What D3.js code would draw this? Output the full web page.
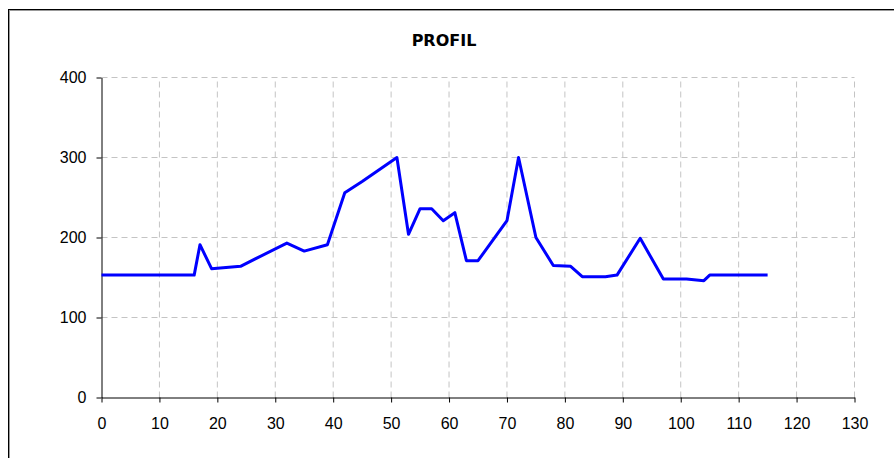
<!DOCTYPE html>
<html>
<head>
<meta charset="utf-8">
<script src="https://cdn.jsdelivr.net/npm/d3@7"></script>
<style>
  html, body { margin: 0; padding: 0; background: #fff; }
  svg { display: block; }
</style>
</head>
<body>
<svg id="chart" width="894" height="458"></svg>
<script>
const title = "PROFIL";
const distance = [0, 16, 17, 19, 24, 32, 35, 39, 42, 45, 51, 53, 55, 57, 59, 61, 63, 65, 70, 72, 75, 78, 81, 83, 87, 89, 93, 97, 101, 104, 105, 115];
const height = [153, 153, 191, 161, 164, 193, 183, 191, 256, 270, 300, 204, 236, 236, 221, 231, 171, 171, 221, 300, 200, 165, 164, 151, 151, 153, 199, 148, 148, 146, 153, 153];
const xTicks = [0, 10, 20, 30, 40, 50, 60, 70, 80, 90, 100, 110, 120, 130];
const yTicks = [0, 100, 200, 300, 400];

const svg = d3.select("#chart");

// outer frame
svg.append("rect").attr("x", 9.5).attr("y", 10.5).attr("width", 1000).attr("height", 1000)
  .attr("fill", "none").attr("stroke", "#999").attr("stroke-width", 1);
svg.append("rect").attr("x", 8.5).attr("y", 9.5).attr("width", 1000).attr("height", 1000)
  .attr("fill", "none").attr("stroke", "#000").attr("stroke-width", 1);

const x = d3.scaleLinear().domain([0, 130]).range([101.5, 854.5]);
const y = d3.scaleLinear().domain([0, 400]).range([397.5, 77.5]);

// gridlines
svg.append("g").selectAll("line.h").data(yTicks.filter(d => d > 0)).join("line")
  .attr("x1", x(0)).attr("x2", x(130))
  .attr("y1", d => y(d)).attr("y2", d => y(d))
  .attr("stroke", "#c4c4c4").attr("stroke-dasharray", "6,4").attr("stroke-width", 1);
svg.append("g").selectAll("line.v").data(xTicks.filter(d => d > 0)).join("line")
  .attr("x1", d => x(d)).attr("x2", d => x(d))
  .attr("y1", y(0)).attr("y2", y(400))
  .attr("stroke", "#c4c4c4").attr("stroke-dasharray", "6,4").attr("stroke-width", 1);

// axes
const xAxis = d3.axisBottom(x).tickValues(xTicks).tickSize(5).tickSizeOuter(0).tickPadding(15);
const yAxis = d3.axisLeft(y).tickValues(yTicks).tickSize(5).tickSizeOuter(0).tickPadding(10);

const gx = svg.append("g").attr("transform", `translate(0,${y(0)})`).call(xAxis);
const gy = svg.append("g").attr("transform", `translate(${x(0)},0)`).call(yAxis);
[gx, gy].forEach(g => {
  g.selectAll("text").attr("font-family", "'Liberation Sans', Arial, sans-serif")
    .attr("font-size", 16).attr("fill", "#000");
  g.selectAll("line").attr("stroke", "#000");
  g.select(".domain").attr("stroke", "#000");
});

// line
const line = d3.line().x((d, i) => x(distance[i])).y(d => y(d));
svg.append("path").datum(height)
  .attr("d", line)
  .attr("fill", "none")
  .attr("stroke", "#0000ff")
  .attr("stroke-width", 3)
  .attr("stroke-linejoin", "round")
  .attr("stroke-linecap", "butt");

// title
svg.append("text").attr("x", 444).attr("y", 46)
  .attr("text-anchor", "middle")
  .attr("font-family", "'DejaVu Sans', Verdana, sans-serif")
  .attr("font-weight", "bold").attr("font-size", 16)
  .text(title);
</script>
</body>
</html>
